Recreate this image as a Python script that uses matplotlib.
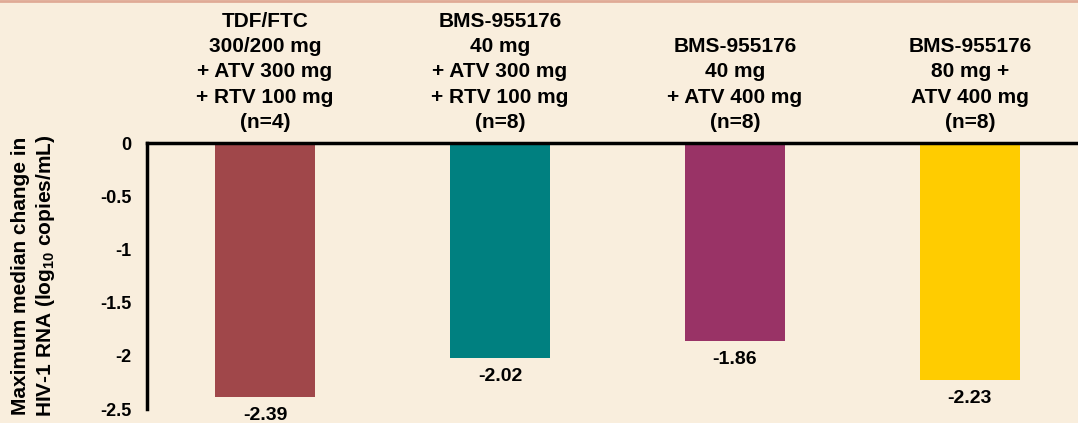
import matplotlib
matplotlib.use("Agg")
import matplotlib.pyplot as plt
from matplotlib.lines import Line2D

plt.rcParams['font.family'] = ['Liberation Sans', 'DejaVu Sans']
plt.rcParams['font.weight'] = 'bold'
plt.rcParams['mathtext.fontset'] = 'custom'
plt.rcParams['mathtext.rm'] = 'Liberation Sans:bold'
plt.rcParams['mathtext.bf'] = 'Liberation Sans:bold'

# Treatment arms and maximum median change in HIV-1 RNA
groups = [
    "TDF/FTC\n300/200 mg\n+ ATV 300 mg\n+ RTV 100 mg\n(n=4)",
    "BMS-955176\n40 mg\n+ ATV 300 mg\n+ RTV 100 mg\n(n=8)",
    "BMS-955176\n40 mg\n+ ATV 400 mg\n(n=8)",
    "BMS-955176\n80 mg +\nATV 400 mg\n(n=8)",
]
values = [-2.39, -2.02, -1.86, -2.23]
colors = ["#A0474A", "#008080", "#993366", "#FFCC00"]
yticks = [0, -0.5, -1, -1.5, -2, -2.5]
ytick_labels = ["0", "-0.5", "-1", "-1.5", "-2", "-2.5"]

W, H = 1078, 423
bg = "#F9EEDD"
fig = plt.figure(figsize=(W / 100, H / 100), dpi=100, facecolor=bg)

# thin accent rule along the top edge
fig.add_artist(Line2D([0, 1], [1 - 1 / H, 1 - 1 / H], transform=fig.transFigure,
                      color="#E0AA96", lw=2))

ax_left, ax_right = 147 / W, 1.0
ax_top, ax_bottom = 1 - 143 / H, 1 - 409 / H
ax = fig.add_axes([ax_left, ax_bottom, ax_right - ax_left, ax_top - ax_bottom])
ax.set_facecolor(bg)

x = [0, 1, 2, 3]
ax.bar(x, values, width=0.4255, color=colors, zorder=2)
ax.set_xlim(-0.502, 3.46)
ax.set_ylim(-2.5, 0)

for s in ["right", "bottom"]:
    ax.spines[s].set_visible(False)
for s in ["left", "top"]:
    ax.spines[s].set_linewidth(2.5)
    ax.spines[s].set_color("black")

ax.set_xticks([])
ax.set_yticks(yticks)
ax.set_yticklabels(ytick_labels, fontsize=13, fontweight='bold')
ax.tick_params(axis='y', length=0, pad=11)

ax.set_ylabel("Maximum median change in\nHIV-1 RNA (log$_{\\mathbf{10}}$ copies/mL)",
              fontsize=15, fontweight='bold', labelpad=31, linespacing=1.25)

for xi, v, lab in zip(x, values, groups):
    ax.annotate(f"{v:.2f}", xy=(xi, v), xytext=(0, -10), textcoords='offset pixels',
                ha='center', va='top', fontsize=14, fontweight='bold',
                annotation_clip=False)
    ax.annotate(lab, xy=(xi, 0), xytext=(0, 11), textcoords='offset pixels',
                ha='center', va='bottom', fontsize=15, fontweight='bold',
                linespacing=1.42, annotation_clip=False)

fig.savefig("out.png", dpi=100, facecolor=bg)
